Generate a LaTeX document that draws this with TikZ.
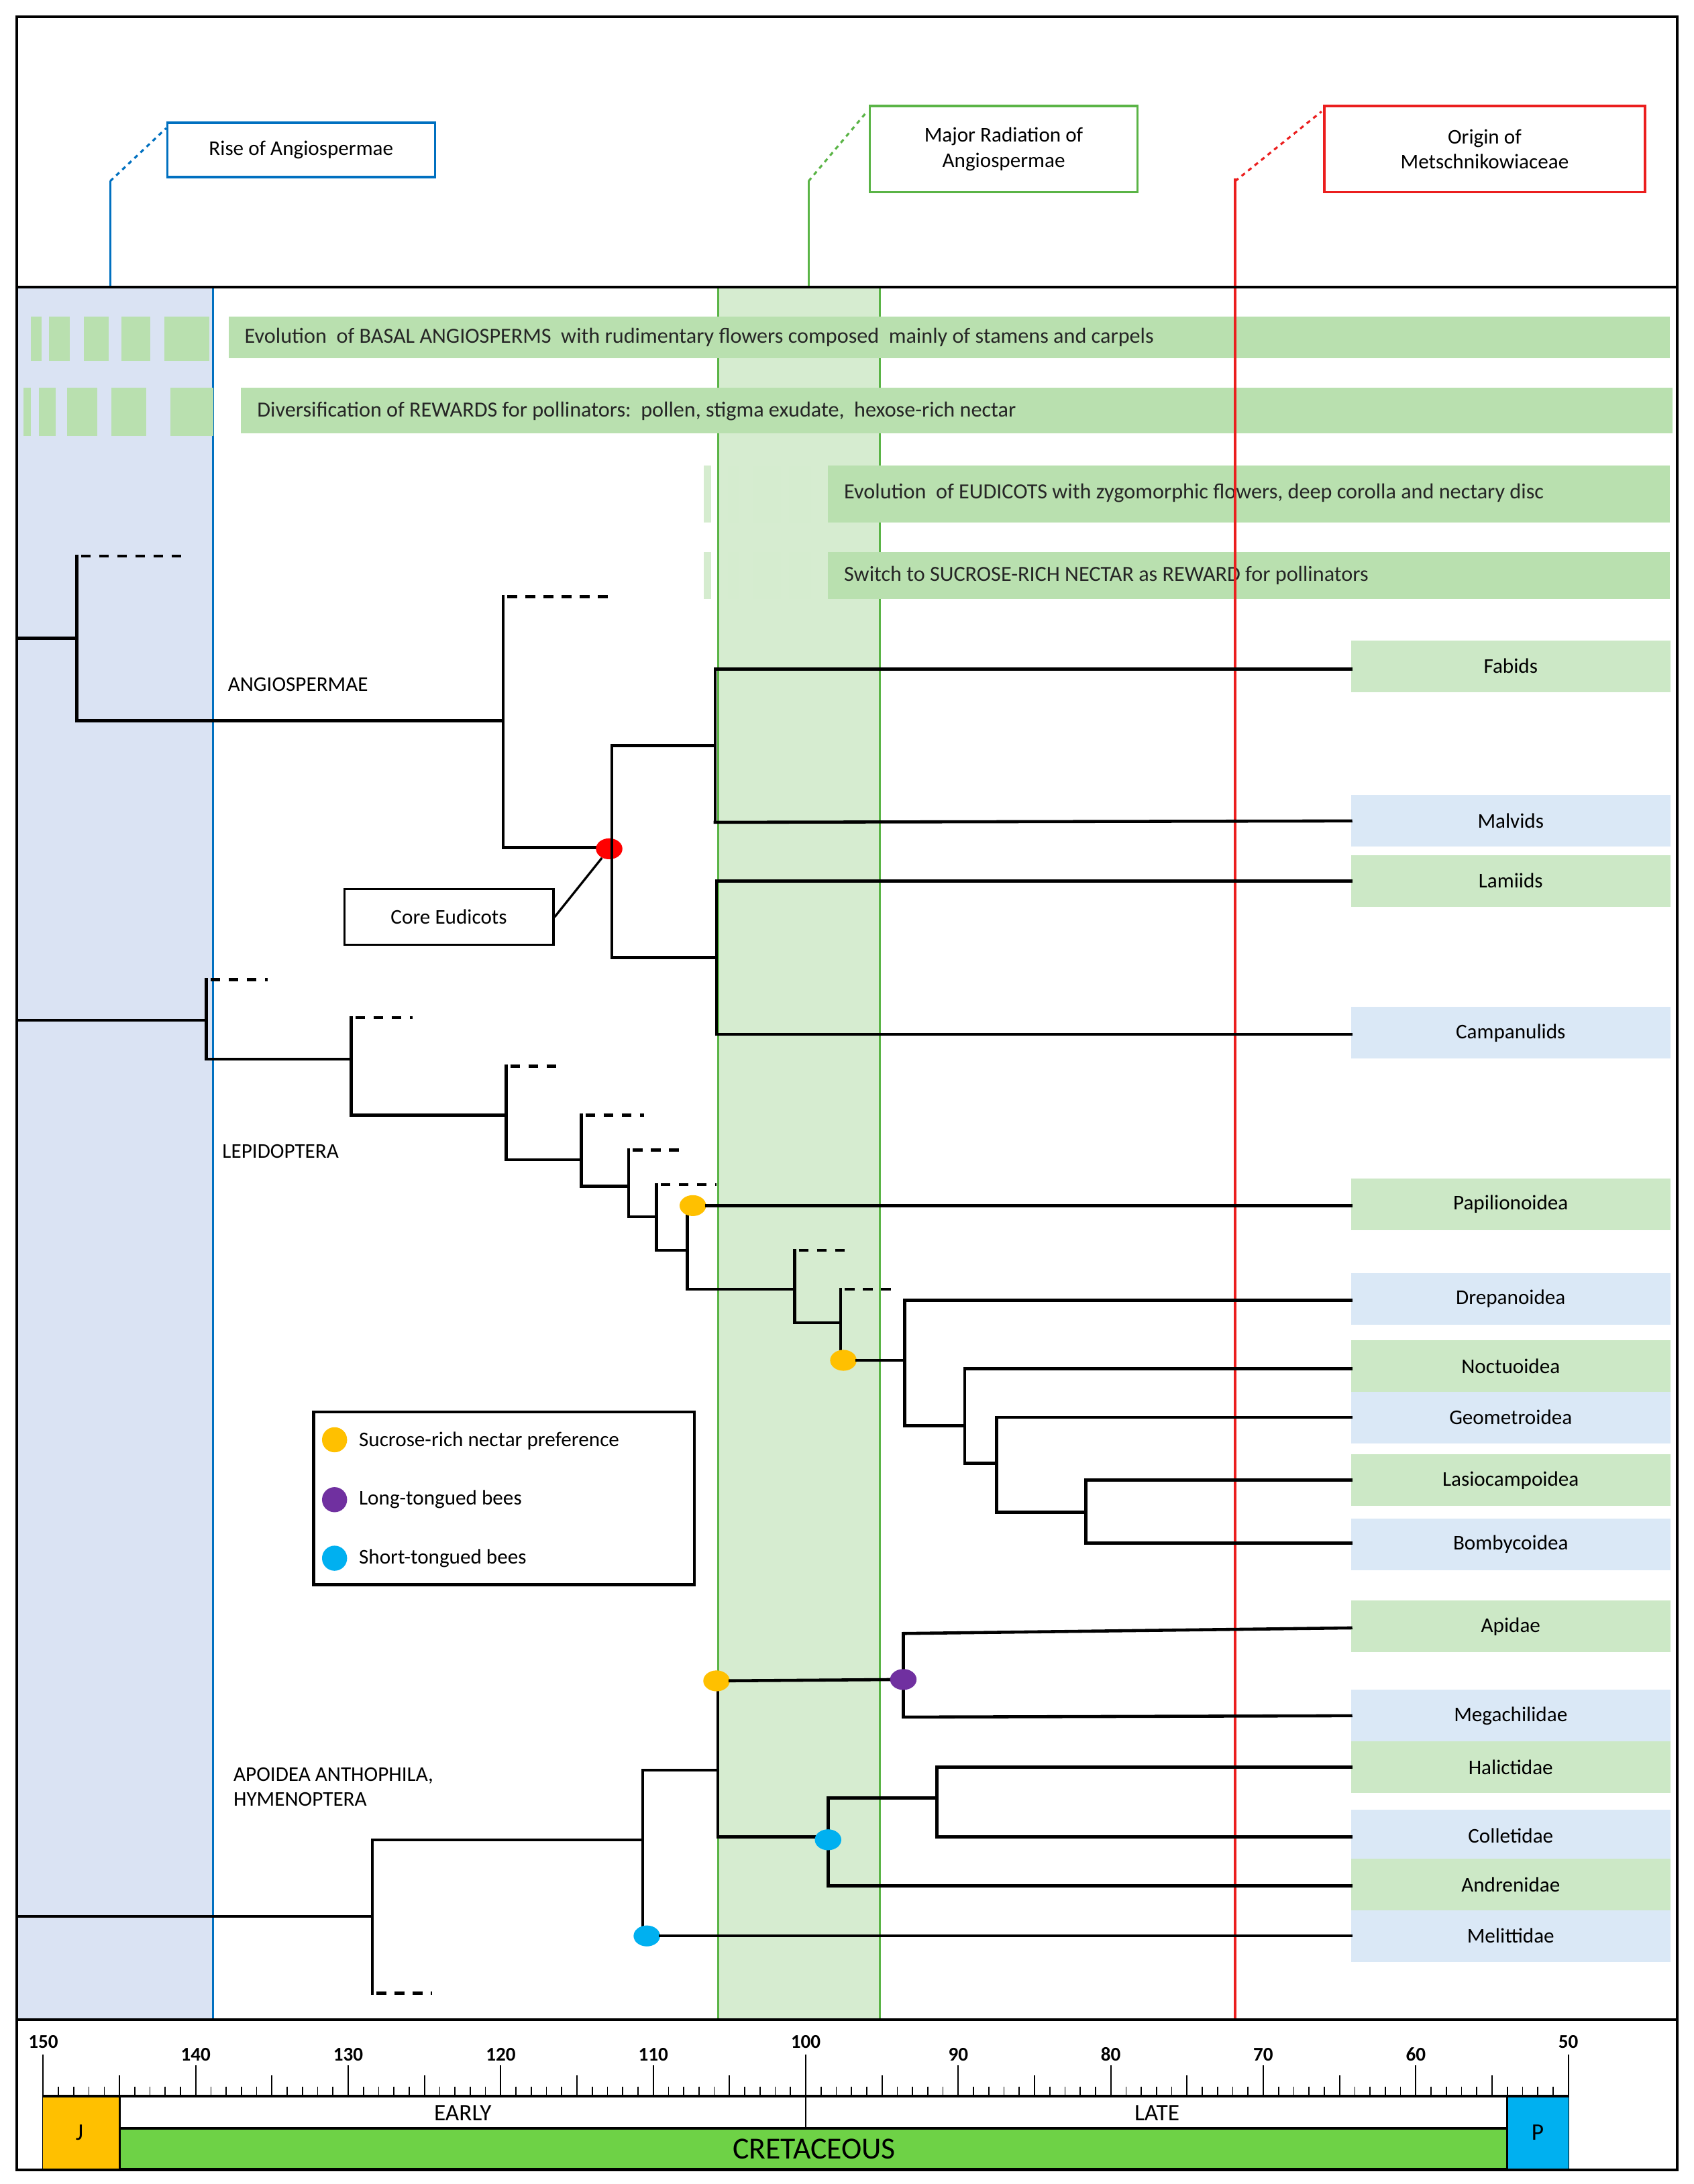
\documentclass[tikz,border=0pt]{standalone}
\usepackage{fontspec}
\setmainfont{Carlito}
\usetikzlibrary{shapes.geometric}
\definecolor{bblue}{RGB}{218,227,243}
\definecolor{bline}{RGB}{0,112,192}
\definecolor{gband}{RGB}{214,236,208}
\definecolor{gline}{RGB}{90,180,70}
\definecolor{gbar}{RGB}{185,224,175}
\definecolor{tipg}{RGB}{204,232,198}
\definecolor{tipb}{RGB}{218,232,246}
\definecolor{rline}{RGB}{235,30,30}
\definecolor{orng}{RGB}{255,192,0}
\definecolor{purp}{RGB}{112,48,160}
\definecolor{cyn}{RGB}{0,176,240}
\definecolor{cret}{RGB}{110,210,70}
\begin{document}
\begin{tikzpicture}[x=1pt,y=-1pt,
  tree/.style={line width=2.2pt,line cap=rect},
  dsh/.style={line width=2.2pt,dash pattern=on 7pt off 6pt},
  tip/.style={minimum width=229pt,minimum height=37pt,inner sep=0,anchor=west,font=\fontsize{15}{18}\selectfont},
  tg/.style={tip,fill=tipg},
  tb/.style={tip,fill=tipb},
  bar/.style={fill=gbar},
  bartxt/.style={anchor=west,font=\fontsize{15.5}{18}\selectfont,text=black!85},
  lab/.style={anchor=west,font=\fontsize{15}{18}\selectfont,align=left},
  dot/.style={ellipse,minimum width=19pt,minimum height=15pt,inner sep=0},
  topbox/.style={draw,line width=1.6pt,fill=white,minimum width=192pt,align=center,font=\fontsize{15}{18}\selectfont}
]
\useasboundingbox (0,0) rectangle (1215,1567);
\fill[white] (0,0) rectangle (1215,1567);
% bands
\fill[bblue] (13,206) rectangle (153,1449);
\draw[bline,line width=1.5pt] (153,206) -- (153,1449);
\fill[gband] (515,206) rectangle (631,1449);
\draw[gline,line width=1.5pt] (515,206) -- (515,1449) (631,206) -- (631,1449);
% green bars
\foreach \a/\b in {22/30,35/50,60/78,87/108,118/150} \fill[gbar] (\a,227) rectangle (\b,259);
\fill[bar] (164,227) rectangle (1198,257);
\node[bartxt] (t1) at (172,242) {Evolution\ \ of BASAL ANGIOSPERMS\ \ with rudimentary flowers composed\ \ mainly of stamens and carpels};
\foreach \a/\b in {17/22,28/40,48/70,80/105,122/153} \fill[gbar] (\a,278) rectangle (\b,313);
\fill[bar] (173,278) rectangle (1200,311);
\node[bartxt] (t2) at (181,295) {Diversification of REWARDS for pollinators:\ \ pollen,\ stigma exudate,\ \ hexose-rich nectar};
\foreach \a/\b in {505/510,522/530,540/560,566/582} {\fill[gbar!60] (\a,334) rectangle (\b,375); \fill[gbar!60] (\a,396) rectangle (\b,430);}
\fill[bar] (594,334) rectangle (1198,375);
\node[bartxt] (t3) at (602,354) {Evolution\ \ of EUDICOTS with zygomorphic flowers,\ deep corolla and nectary disc};
\fill[bar] (594,396) rectangle (1198,430);
\node[bartxt] (t4) at (602,413) {Switch to SUCROSE-RICH NECTAR as REWARD for pollinators};
% red line
\draw[rline,line width=1.5pt] (886,128) -- (886,1449);
% top leaders & boxes
\node[topbox,draw=bline,minimum height=39pt] (rise) at (216,107.5) {Rise of Angiospermae};
\node[topbox,draw=gline,minimum height=62pt] (major) at (720,107) {Major Radiation of\\Angiospermae};
\node[topbox,draw=rline,minimum width=230pt,minimum height=62pt] (origin) at (1065,107) {Origin of\\Metschnikowiaceae};
\coordinate (rb) at (79,130); \coordinate (gb) at (580,130); \coordinate (rdb) at (886,130);
\draw[bline,line width=1.5pt] (79,206) -- (rb);
\draw[bline,line width=1.5pt,dashed] (rb) -- (rise.west |- 0,92);
\draw[gline,line width=1.5pt] (580,206) -- (gb);
\draw[gline,line width=1.5pt,dashed] (gb) -- (622,80);
\draw[rline,line width=1.5pt,dashed] (rdb) -- (948,80);
% frame
\draw[line width=1.8pt] (12,12) rectangle (1203,1557);
\draw[line width=1.8pt] (12,206) -- (1203,206) (12,1449) -- (1203,1449);
% tip labels
\node[tg] (fab) at (969,478) {Fabids};
\node[tb] (mal) at (969,589) {Malvids};
\node[tg] (lam) at (969,632) {Lamiids};
\node[tb] (cam) at (969,741) {Campanulids};
\node[tg] (pap) at (969,864) {Papilionoidea};
\node[tb] (dre) at (969,932) {Drepanoidea};
\node[tg] (noc) at (969,980) {Noctuoidea};
\node[tb] (geo) at (969,1017) {Geometroidea};
\node[tg] (las) at (969,1062) {Lasiocampoidea};
\node[tb] (bom) at (969,1108) {Bombycoidea};
\node[tg] (api) at (969,1167) {Apidae};
\node[tb] (meg) at (969,1231) {Megachilidae};
\node[tg] (hal) at (969,1268) {Halictidae};
\node[tb] (col) at (969,1317) {Colletidae};
\node[tg] (and) at (969,1352) {Andrenidae};
\node[tb] (mel) at (969,1389) {Melittidae};
% group labels
\node[lab] (angl) at (160,491) {ANGIOSPERMAE};
\node[lab] (lepl) at (156,826) {LEPIDOPTERA};
\node[lab] (apol) at (164,1282) {APOIDEA ANTHOPHILA,\\HYMENOPTERA};
% Angiosperm tree
\draw[tree] (13,458) -- (55,458);
\draw[tree] (55,399) -- (55,517) -- (361,517);
\draw[dsh] (58,399) -- (133,399);
\draw[tree] (361,428) -- (361,608) -- (437,608);
\draw[dsh] (364,428) -- (438,428);
\node[dot,fill=red] (ce) at (437,609) {};
\node[draw,line width=1.6pt,minimum width=150pt,minimum height=40pt,font=\fontsize{15}{18}\selectfont] (core) at (322,658) {Core Eudicots};
\draw[line width=1.6pt] (core.east) -- (ce);
\draw[tree] (439,535) -- (439,687);
\draw[tree] (439,535) -- (513,535) (513,480) -- (513,590);
\draw[tree] (513,480) -- (fab.west |- 0,480);
\draw[tree] (513,590) -- (mal.west);
\draw[tree] (439,687) -- (514,687) (514,632) -- (514,742);
\draw[tree] (514,632) -- (lam.west);
\draw[tree] (514,742) -- (cam.west |- 0,742);
% Lepidoptera tree
\draw[tree] (13,732) -- (148,732) (148,703) -- (148,760) -- (252,760);
\draw[dsh] (151,703) -- (192,703);
\draw[tree] (252,730) -- (252,800) -- (363,800);
\draw[dsh] (255,730) -- (296,730);
\draw[tree] (363,765) -- (363,832) -- (417,832);
\draw[dsh] (366,765) -- (405,765);
\draw[tree] (417,800) -- (417,851) -- (451,851);
\draw[dsh] (420,800) -- (462,800);
\draw[tree] (451,825) -- (451,873) -- (471,873);
\draw[dsh] (454,825) -- (492,825);
\draw[tree] (471,850) -- (471,897) -- (493,897);
\draw[dsh] (474,850) -- (514,850);
\draw[tree] (493,865) -- (493,925) -- (570,925);
\node[dot,fill=orng] (d1) at (497,865) {};
\draw[tree] (d1) -- (pap.west |- 0,865);
\draw[tree] (570,897) -- (570,949) -- (603,949);
\draw[dsh] (573,897) -- (611,897);
\draw[tree] (603,925) -- (603,976);
\draw[dsh] (606,925) -- (644,925);
\node[dot,fill=orng] (d2) at (605,976) {};
\draw[tree] (d2) -- (649,976) (649,933) -- (649,1023) -- (692,1023);
\draw[tree] (649,933) -- (dre.west |- 0,933);
\draw[tree] (692,982) -- (692,1050) -- (715,1050);
\draw[tree] (692,982) -- (noc.west |- 0,982);
\draw[tree] (715,1017) -- (715,1085) -- (779,1085);
\draw[tree] (715,1017) -- (geo.west);
\draw[tree] (779,1062) -- (779,1107);
\draw[tree] (779,1062) -- (las.west);
\draw[tree] (779,1107) -- (bom.west |- 0,1107);
% Apoidea tree
\draw[tree] (13,1375) -- (267,1375) (267,1320) -- (267,1430);
\draw[dsh] (270,1430) -- (310,1430);
\draw[tree] (267,1320) -- (461,1320) (461,1270) -- (461,1389);
\node[dot,fill=cyn] (d3) at (464,1389) {};
\draw[tree] (d3) -- (mel.west);
\draw[tree] (461,1270) -- (515,1270) (515,1206) -- (515,1318);
\node[dot,fill=orng] (d4) at (514,1206) {};
\draw[tree] (d4) -- (648,1205);
\draw[tree] (648,1172) -- (648,1232);
\node[dot,fill=purp] (d5) at (648,1205) {};
\draw[tree] (648,1172) -- (api.west |- 0,1168);
\draw[tree] (648,1232) -- (meg.west);
\draw[tree] (515,1318) -- (594,1318) (594,1290) -- (594,1353);
\draw[tree] (594,1290) -- (672,1290) (672,1268) -- (672,1318);
\draw[tree] (672,1268) -- (hal.west);
\draw[tree] (672,1318) -- (col.west |- 0,1318);
\draw[tree] (594,1353) -- (and.west |- 0,1353);
\node[dot,fill=cyn] (d6) at (594,1320) {};
% legend
\draw[line width=2pt,fill=white] (225,1013) rectangle (498,1137);
\node[dot,fill=orng,minimum width=18pt,minimum height=18pt] (l1) at (240,1033) {};
\node[lab] at (254,1034) {Sucrose-rich nectar preference};
\node[dot,fill=purp,minimum width=18pt,minimum height=18pt] (l2) at (240,1076) {};
\node[lab] at (254,1076) {Long-tongued bees};
\node[dot,fill=cyn,minimum width=18pt,minimum height=18pt] (l3) at (240,1118) {};
\node[lab] at (254,1118) {Short-tongued bees};
% timeline
\foreach \a in {50,...,150} {
  \pgfmathsetmacro\xx{31+(150-\a)*10.94}
  \pgfmathsetmacro\rem{int(mod(\a,10))}
  \pgfmathsetmacro\remf{int(mod(\a,5))}
  \ifnum\rem=0 \draw[line width=1pt] (\xx,1482) -- (\xx,1504);
  \else\ifnum\remf=0 \draw[line width=1pt] (\xx,1489) -- (\xx,1504);
  \else \draw[line width=0.8pt] (\xx,1497) -- (\xx,1504); \fi\fi
}
\foreach \a in {150,100,50} {\pgfmathsetmacro\xx{31+(150-\a)*10.94}
  \draw[line width=1pt] (\xx,1474) -- (\xx,1504);
  \node[font=\fontsize{14}{16}\selectfont\bfseries] at (\xx,1465) {\a};}
\foreach \a in {140,130,120,110,90,80,70,60} {\pgfmathsetmacro\xx{31+(150-\a)*10.94}
  \node[font=\fontsize{14}{16}\selectfont\bfseries] at (\xx,1474) {\a};}
\draw[line width=1.8pt,fill=white] (31,1504) rectangle (1125,1556);
\fill[orng] (31,1504) rectangle (86,1556);
\fill[cyn] (1081,1504) rectangle (1125,1556);
\draw[line width=1.6pt,fill=cret] (86,1527) rectangle (1081,1556);
\draw[line width=1.6pt] (31,1504) -- (1125,1504) (86,1504) -- (86,1556) (1081,1504) -- (1081,1556);
\draw[line width=1pt] (578,1504) -- (578,1527);
\node[font=\fontsize{17}{19}\selectfont] at (57,1530) {J};
\node[font=\fontsize{17}{19}\selectfont] at (1103,1530) {P};
\node[font=\fontsize{17}{19}\selectfont] at (332,1516) {EARLY};
\node[font=\fontsize{17}{19}\selectfont] at (830,1516) {LATE};
\node[font=\fontsize{22}{24}\selectfont] at (584,1542) {CRETACEOUS};
\end{tikzpicture}
\end{document}
